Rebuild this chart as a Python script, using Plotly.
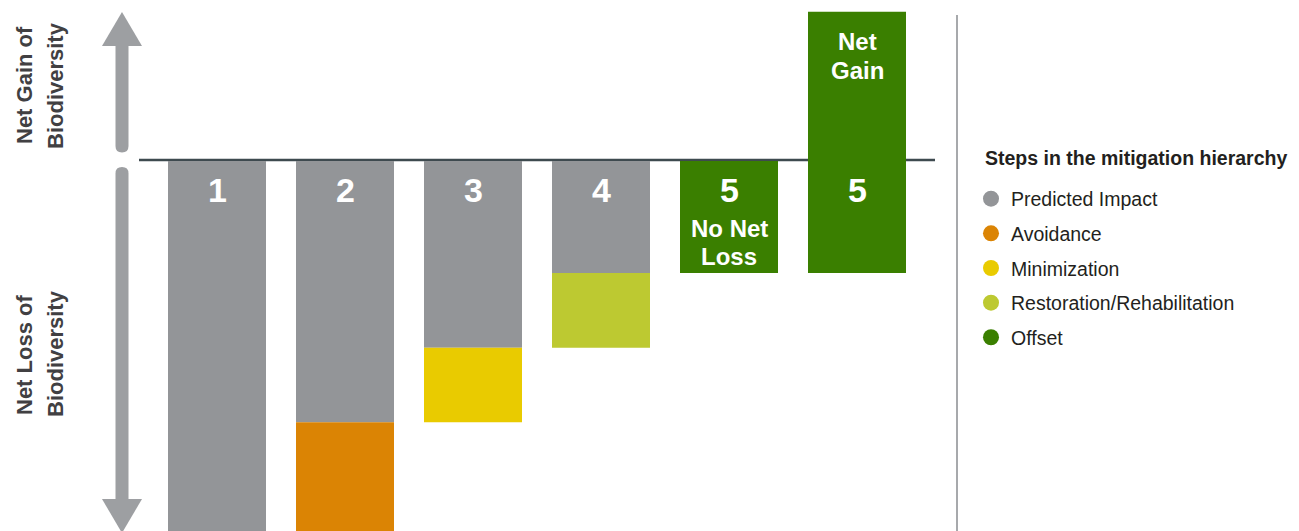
import plotly.graph_objects as go

# ---------------- data ----------------
steps = ["1", "2", "3", "4", "5", "5"]
bar_index = [0, 1, 2, 3, 4, 5]

series_names = ["Predicted Impact", "Avoidance", "Minimization",
                "Restoration/Rehabilitation", "Offset"]
series_colors = ["#939598", "#DB8404", "#E9CB00", "#BDC931", "#3A7F00"]

# top and bottom of each coloured segment (biodiversity units, 0 = baseline)
predicted_top = [0, 0, 0, 0, None, None]
predicted_bottom = [-10, -7, -5, -3, None, None]
avoidance_top = [None, -7, None, None, None, None]
avoidance_bottom = [None, -10, None, None, None, None]
minimization_top = [None, None, -5, None, None, None]
minimization_bottom = [None, None, -7, None, None, None]
restoration_top = [None, None, None, -3, None, None]
restoration_bottom = [None, None, None, -5, None, None]
offset_top = [None, None, None, None, 0, 4]
offset_bottom = [None, None, None, None, -3, -3]

outcome_labels = ["", "", "", "", "No Net Loss", "Net Gain"]
legend_title = "Steps in the mitigation hierarchy"

# ---------------- layout helpers ----------------
# the page body has an 8px margin, so the figure is drawn from (8, 8)
OFF = 8
WIN_W, WIN_H = 1299, 531
W, H = WIN_W - OFF, WIN_H - OFF
FONT = '"Liberation Sans", Arial, sans-serif'


def px(x):
    """window pixel x -> paper x"""
    return (x - OFF) / W


def py(y):
    """window pixel y -> paper y"""
    return 1 - (y - OFF) / H


fig = go.Figure()

tops = [predicted_top, avoidance_top, minimization_top, restoration_top, offset_top]
bottoms = [predicted_bottom, avoidance_bottom, minimization_bottom,
           restoration_bottom, offset_bottom]

for name, color, top, bot in zip(series_names, series_colors, tops, bottoms):
    xs, ys, bs = [], [], []
    for i, t, b in zip(bar_index, top, bot):
        if t is None:
            continue
        xs.append(i)
        ys.append(t - b)
        bs.append(b)
    fig.add_trace(go.Bar(x=xs, y=ys, base=bs, width=0.7656,
                         marker=dict(color=color, line=dict(width=0)),
                         name=name, showlegend=False, hoverinfo="skip"))

# legend entries as circles
for k, (name, color) in enumerate(zip(series_names, series_colors)):
    fig.add_trace(go.Scatter(x=[None], y=[None], mode="markers", name=name,
                             legendgroup=f"g{k}",
                             marker=dict(color=color, size=16, symbol="circle")))

# step numbers in bars
annotations = []
for i, s in zip(bar_index, steps):
    annotations.append(dict(x=i, xref="x", y=py(190), yref="paper", text=s,
                            showarrow=False, yanchor="middle",
                            font=dict(family=FONT, size=34, color="white", weight="bold")))
# outcome labels
for i, lab in zip(bar_index, outcome_labels):
    if not lab:
        continue
    if lab == "No Net Loss":
        lines, ys_ = ["No Net", "Loss"], [228, 256]
    else:
        lines, ys_ = ["Net", "Gain"], [42, 70]
    for ln, yy in zip(lines, ys_):
        annotations.append(dict(x=i, xref="x", y=py(yy), yref="paper", text=ln,
                                showarrow=False, yanchor="middle",
                                font=dict(family=FONT, size=24, color="white", weight="bold")))

# side labels
side_font = dict(family=FONT, size=22, color="#414042", weight="bold")
for txt, xx, yy in [("Net Gain of", 24, 85), ("Biodiversity", 55, 86),
                    ("Net Loss of", 24, 355), ("Biodiversity", 55, 354)]:
    annotations.append(dict(x=px(xx), xref="paper", y=py(yy), yref="paper", text=txt,
                            textangle=-90, showarrow=False, xanchor="center",
                            yanchor="middle", font=side_font))

# legend heading
annotations.append(dict(x=px(983), xref="paper", y=py(158), yref="paper",
                        text=legend_title, showarrow=False, xanchor="left",
                        yanchor="middle",
                        font=dict(family=FONT, size=19.5, color="#231F20", weight="bold")))


def path(cmds):
    out = []
    for cmd, *pts in cmds:
        coords = " ".join(f"{px(pts[j]):.5f},{py(pts[j+1]):.5f}" for j in range(0, len(pts), 2))
        out.append(f"{cmd} {coords}" if coords else cmd)
    return " ".join(out)


arrow_color = "#9D9FA2"
shapes = [
    # baseline
    dict(type="line", xref="paper", yref="paper", x0=px(139), x1=px(935),
         y0=py(160), y1=py(160), line=dict(color="#3E4A4F", width=2.5), layer="below"),
    # separator
    dict(type="line", xref="paper", yref="paper", x0=px(957), x1=px(957),
         y0=py(15), y1=py(540), line=dict(color="#A7A9AC", width=2)),
    # up arrow shaft
    dict(type="path", xref="paper", yref="paper", fillcolor=arrow_color, line=dict(width=0),
         path=path([("M", 115.5, 45), ("L", 115.5, 146), ("Q", 115.5, 152.5, 122, 152.5),
                    ("Q", 128.5, 152.5, 128.5, 146), ("L", 128.5, 45), ("Z",)])),
    # up arrow head
    dict(type="path", xref="paper", yref="paper", fillcolor=arrow_color, line=dict(width=0),
         path=path([("M", 102, 46), ("L", 122, 12), ("L", 142, 46), ("Z",)])),
    # down arrow shaft
    dict(type="path", xref="paper", yref="paper", fillcolor=arrow_color, line=dict(width=0),
         path=path([("M", 115.5, 500), ("L", 115.5, 173.5), ("Q", 115.5, 167, 122, 167),
                    ("Q", 128.5, 167, 128.5, 173.5), ("L", 128.5, 500), ("Z",)])),
    # down arrow head
    dict(type="path", xref="paper", yref="paper", fillcolor=arrow_color, line=dict(width=0),
         path=path([("M", 102, 499), ("L", 142, 499), ("L", 122, 533), ("Z",)])),
]

# axis scales: bar centres every 128 px starting at window x=217;
# baseline (0) at window y=161, 3 units = 112 px
y_per_px = 3 / (273 - 161)
x0 = -(217 - OFF) / 128
yz = 161 - OFF
fig.update_layout(
    width=W, height=H,
    margin=dict(l=0, r=0, t=0, b=0, pad=0, autoexpand=False),
    paper_bgcolor="white", plot_bgcolor="white",
    barmode="overlay",
    xaxis=dict(range=[x0, x0 + W / 128], visible=False, fixedrange=True),
    yaxis=dict(range=[-(H - yz) * y_per_px, yz * y_per_px], visible=False, fixedrange=True),
    shapes=shapes,
    annotations=annotations,
    legend=dict(
        x=px(971), y=py(179.5), xanchor="left", yanchor="top",
        bgcolor="rgba(0,0,0,0)", traceorder="grouped", tracegroupgap=6.3,
        itemclick=False, itemdoubleclick=False,
        font=dict(family=FONT, size=19.5, color="#231F20"),
    ),
    showlegend=True,
)

fig.write_html("out.html")
